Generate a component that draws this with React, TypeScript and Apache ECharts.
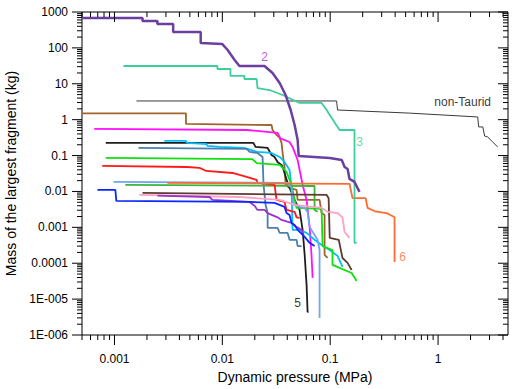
import React, { useEffect, useRef } from "react";
import * as echarts from "echarts";

// ---------- axis ranges / tick labels ----------
const xMin = 0.0005;
const xMax = 4.45;
const yMin = 1e-6;
const yMax = 1000;
const xLabelExponents = [-3, -2, -1, 0];
const xLabelTexts = ["0.001", "0.01", "0.1", "1"];
const yLabelExponents = [-6, -5, -4, -3, -2, -1, 0, 1, 2, 3];
const yLabelTexts = ["1E-006", "1E-005", "0.0001", "0.001", "0.01", "0.1", "1", "10", "100", "1000"];

// ---------- series data: [dynamic pressure (MPa), mass (kg)] ----------
const nonTaurid = [[0.0016, 3.32], [0.1146, 3.32], [0.117, 1.86], [0.546, 1.52], [2.33, 1.19], [2.38, 0.626], [2.6, 0.626], [2.7, 0.35], [2.88, 0.33], [3.21, 0.239], [3.57, 0.174]];
const sienna = [[0.0005, 1.5], [0.0046, 1.5], [0.0046, 0.76], [0.0286, 0.71], [0.0292, 0.516], [0.0318, 0.375], [0.034, 0.309], [0.0354, 0.225], [0.0362, 0.118], [0.0377, 0.048], [0.0386, 0.0152], [0.042, 0.0125], [0.0488, 0.011], [0.0499, 0.0058], [0.0797, 0.0058], [0.0832, 0.00252], [0.0887, 0.00221], [0.0887, 0.00017], [0.0946, 0.00014]];
const magenta = [[0.00065, 0.551], [0.0171, 0.516], [0.0325, 0.426], [0.0345, 0.3], [0.042, 0.239], [0.0448, 0.174], [0.0499, 0.0754], [0.0555, 0.0152], [0.0604, 0.0058], [0.0644, 0.00103], [0.0671, 0.00017], [0.0687, 0.000039]];
const black5 = [[0.00083, 0.225], [0.0194, 0.225], [0.0203, 0.174], [0.0263, 0.163], [0.0286, 0.104], [0.0305, 0.0914], [0.0325, 0.066], [0.0354, 0.0547], [0.037, 0.0397], [0.0403, 0.0173], [0.0468, 0.0058], [0.052, 0.00305], [0.0555, 0.00085], [0.058, 0.00017], [0.0604, 0.000025], [0.0617, 0.0000044], [0.063, 0.0000044]];
const cyan = [[0.0029, 0.255], [0.0046, 0.255], [0.0047, 0.225], [0.0071, 0.21], [0.0073, 0.185], [0.0094, 0.174], [0.016, 0.163], [0.0212, 0.126], [0.0286, 0.118], [0.034, 0.0914], [0.0377, 0.0663], [0.042, 0.0397], [0.0438, 0.0133], [0.0448, 0.00085], [0.052, 0.00085], [0.0604, 0.0007], [0.0716, 0.00045], [0.0832, 0.00032], [0.099, 0.000234], [0.117, 0.00016], [0.13, 0.0000794]];
const steel = [[0.00167, 0.163], [0.0168, 0.153], [0.0179, 0.126], [0.0212, 0.118], [0.0236, 0.0914], [0.0241, 0.0152], [0.0252, 0.0042], [0.0263, 0.00252], [0.0263, 0.00096], [0.0325, 0.00096], [0.034, 0.0007], [0.0403, 0.0007], [0.042, 0.00045], [0.0488, 0.00045], [0.0499, 0.0003], [0.0543, 0.0003]];
const lime = [[0.00083, 0.0857], [0.019, 0.08], [0.0208, 0.0616], [0.034, 0.0547], [0.0362, 0.0452], [0.0394, 0.0349], [0.0438, 0.0152], [0.0468, 0.0058], [0.0488, 0.00347], [0.0832, 0.00326], [0.085, 0.0003], [0.105, 0.000234], [0.105, 0.0000897], [0.122, 0.000074], [0.158, 0.0000535], [0.176, 0.0000318]];
const medGreen = [[0.00126, 0.0152], [0.0716, 0.0142], [0.0716, 0.00305], [0.0764, 0.0027]];
const red = [[0.00077, 0.0513], [0.0047, 0.048], [0.00615, 0.0452], [0.0071, 0.0372], [0.0124, 0.0327], [0.0168, 0.0254], [0.0208, 0.0209], [0.0212, 0.0173], [0.0305, 0.0152], [0.0318, 0.0058], [0.0377, 0.0051], [0.0394, 0.00305], [0.0468, 0.0027], [0.0488, 0.0019], [0.052, 0.00183]];
const cornflower = [[0.00098, 0.0184], [0.0403, 0.0173], [0.0438, 0.0125], [0.0458, 0.0042], [0.058, 0.00347], [0.0617, 0.0027], [0.0644, 0.00103], [0.0764, 0.00045], [0.0797, 0.000234], [0.0797, 0.000003]];
const orange6 = [[0.0031, 0.0173], [0.151, 0.0162], [0.161, 0.0065], [0.213, 0.0065], [0.222, 0.00347], [0.26, 0.0028], [0.333, 0.0025], [0.395, 0.0019], [0.395, 0.000109]];
const darkBrown = [[0.00182, 0.0091], [0.0927, 0.008], [0.0967, 0.0065], [0.099, 0.00051], [0.12, 0.00045], [0.13, 0.00014], [0.145, 0.000102], [0.158, 0.000065]];
const pink = [[0.0017, 0.008], [0.0144, 0.007], [0.034, 0.0058], [0.0468, 0.0042], [0.0832, 0.00347], [0.0946, 0.0027], [0.117, 0.0025], [0.13, 0.0019], [0.136, 0.00074], [0.151, 0.00051]];
const violet = [[0.0025, 0.0076], [0.0076, 0.007], [0.0081, 0.0058], [0.0179, 0.0051], [0.0199, 0.004], [0.0212, 0.00305], [0.0246, 0.00305], [0.0263, 0.0025], [0.0325, 0.0019], [0.0354, 0.00161], [0.0438, 0.00133], [0.0468, 0.0011], [0.0543, 0.00085], [0.0567, 0.00061]];
const blue = [[0.000695, 0.011], [0.00102, 0.011], [0.00104, 0.00544], [0.0179, 0.0051], [0.0305, 0.0048], [0.0377, 0.0037], [0.0394, 0.00252], [0.042, 0.00221], [0.0438, 0.00133], [0.0468, 0.00117], [0.0499, 0.00085], [0.058, 0.00054], [0.0644, 0.00037], [0.0716, 0.0003]];
const teal3 = [[0.00121, 31.3], [0.009, 31.3], [0.009, 25.8], [0.0119, 25.8], [0.0119, 16.5], [0.016, 16.5], [0.016, 13.6], [0.0208, 13.6], [0.0212, 7.6], [0.0274, 6.7], [0.0362, 4.87], [0.052, 2.92], [0.0832, 2.92], [0.0927, 1.86], [0.099, 1.35], [0.122, 0.516], [0.168, 0.516], [0.168, 0.00037], [0.176, 0.00037]];
const purple2 = [[0.0005, 680], [0.00182, 680], [0.00182, 560], [0.0025, 560], [0.0025, 463], [0.0035, 463], [0.0035, 277], [0.0063, 277], [0.0063, 137], [0.01, 128], [0.0112, 87.5], [0.013, 46], [0.0144, 31.3], [0.0246, 31.3], [0.0292, 20], [0.034, 10.5], [0.0386, 4.87], [0.043, 1.86], [0.0468, 0.71], [0.0499, 0.272], [0.051, 0.0975], [0.099, 0.0857], [0.128, 0.0754], [0.136, 0.048], [0.145, 0.0423], [0.151, 0.0223], [0.168, 0.0184], [0.187, 0.0097]];

// ---------- in-plot annotations ----------
const annotNames = ["2", "3", "non-Taurid", "6", "5"];
const annotX = [0.0246, 0.187, 1.69, 0.47, 0.0499];
const annotY = [56, 0.24, 3.1, 0.00015, 0.0000078];
const annotColors = ["#9b30d0", "#3ccf9a", "#000000", "#ff6a30", "#000000"];

const FONT = "'Liberation Sans', Arial, Helvetica, sans-serif";

function makeTicks(min: number, max: number) {
  const out: number[][] = [];
  for (let e = -7; e <= 4; e++) {
    for (let k = 1; k <= 9; k++) {
      const v = k * Math.pow(10, e);
      if (v >= min * 0.999 && v <= max * 1.001) out.push([v, k === 1 ? 1 : 0]);
    }
  }
  return out;
}

export default function App() {
  const ref = useRef<HTMLDivElement>(null);
  useEffect(() => {
    if (!ref.current) return;
    const chart = echarts.init(ref.current, undefined, { renderer: "svg" });
    const lineSeries = (data: number[][], color: string, width = 1.8, z = 2) => ({
      type: "line",
      data,
      showSymbol: false,
      symbol: "none",
      lineStyle: { color, width },
      z,
      silent: true,
    });
    const xTicks = makeTicks(xMin, xMax).map((t) => [t[0], 1, t[1]]);
    const yTicks = makeTicks(yMin, yMax).map((t) => [0.01, t[0], t[1]]);
    const option: any = {
      animation: false,
      backgroundColor: "#fff",
      textStyle: { fontFamily: FONT },
      grid: {
        left: 82, right: 10, top: 12, bottom: 54,
        show: true, borderColor: "#000", borderWidth: 1,
        outerBoundsMode: "none",
      },
      xAxis: {
        type: "log", logBase: 10, min: xMin, max: xMax,
        name: "Dynamic pressure (MPa)", nameLocation: "middle", nameGap: 34,
        nameTextStyle: { fontSize: 14, color: "#000", fontFamily: FONT },
        axisLine: { show: false }, axisTick: { show: false }, splitLine: { show: false },
        axisLabel: {
          margin: 18, fontSize: 12, color: "#000", fontFamily: FONT,
          showMinLabel: true, showMaxLabel: true,
          formatter: (v: number) => {
            const e = Math.log10(v);
            if (Math.abs(e - Math.round(e)) > 1e-6) return "";
            const i = xLabelExponents.indexOf(Math.round(e));
            return i >= 0 ? xLabelTexts[i] : "";
          },
        },
      },
      yAxis: {
        type: "log", logBase: 10, min: yMin, max: yMax,
        name: "Mass of the largest fragment (kg)", nameLocation: "middle", nameGap: 49, nameRotate: 90,
        nameTextStyle: { fontSize: 14, color: "#000", fontFamily: FONT },
        axisLine: { show: false }, axisTick: { show: false }, splitLine: { show: false },
        axisLabel: {
          margin: 14, fontSize: 12, color: "#000", fontFamily: FONT,
          formatter: (v: number) => {
            const e = Math.log10(v);
            if (Math.abs(e - Math.round(e)) > 1e-6) return "";
            const i = yLabelExponents.indexOf(Math.round(e));
            return i >= 0 ? yLabelTexts[i] : "";
          },
        },
      },
      series: [
        {
          type: "custom", data: xTicks, clip: false, silent: true, z: 5,
          encode: { x: 0, y: 1 },
          renderItem: (params: any, api: any) => {
            const cs = params.coordSys;
            const p = api.coord([api.value(0), 1]);
            const len = api.value(2) ? 10 : 5;
            const st = { stroke: "#000", lineWidth: 1 };
            return {
              type: "group",
              children: [
                { type: "line", shape: { x1: p[0], y1: cs.y + cs.height, x2: p[0], y2: cs.y + cs.height + len }, style: st },
                { type: "line", shape: { x1: p[0], y1: cs.y, x2: p[0], y2: cs.y + len }, style: st },
              ],
            };
          },
        },
        {
          type: "custom", data: yTicks, clip: false, silent: true, z: 5,
          encode: { x: 0, y: 1 },
          renderItem: (params: any, api: any) => {
            const cs = params.coordSys;
            const p = api.coord([0.01, api.value(1)]);
            const len = api.value(2) ? 10 : 5;
            const st = { stroke: "#000", lineWidth: 1 };
            return {
              type: "group",
              children: [
                { type: "line", shape: { x1: cs.x, y1: p[1], x2: cs.x - len, y2: p[1] }, style: st },
                { type: "line", shape: { x1: cs.x + cs.width, y1: p[1], x2: cs.x + cs.width - len, y2: p[1] }, style: st },
              ],
            };
          },
        },
        lineSeries(nonTaurid, "#3a3a3a", 1),
        lineSeries(sienna, "#a0642d"),
        lineSeries(magenta, "#ff10ff"),
        lineSeries(black5, "#1e1e1e"),
        lineSeries(cyan, "#00bfff"),
        lineSeries(steel, "#4a7fb0"),
        lineSeries(lime, "#10e010"),
        lineSeries(medGreen, "#3cb43c"),
        lineSeries(red, "#ff1a1a"),
        lineSeries(cornflower, "#70a8f0"),
        lineSeries(orange6, "#ff6a30"),
        lineSeries(darkBrown, "#5e3b30"),
        lineSeries(pink, "#ffa0c8"),
        lineSeries(violet, "#9932cc"),
        lineSeries(blue, "#0a28ff"),
        lineSeries(teal3, "#3ccf9a"),
        lineSeries(purple2, "#6b3fa0", 2.5),
        {
          type: "scatter",
          symbolSize: 0,
          silent: true,
          z: 10,
          data: annotNames.map((n, i) => ({
            name: n,
            value: [annotX[i], annotY[i]],
            label: { color: annotColors[i] },
          })),
          label: {
            show: true, position: "inside", formatter: "{b}",
            fontSize: 12, fontFamily: FONT,
          },
        },
      ],
    };
    chart.setOption(option);
    return () => chart.dispose();
  }, []);
  return (
    <div
      ref={ref}
      style={{ position: "fixed", left: 0, top: 0, width: 518, height: 389, background: "#fff" }}
    />
  );
}
